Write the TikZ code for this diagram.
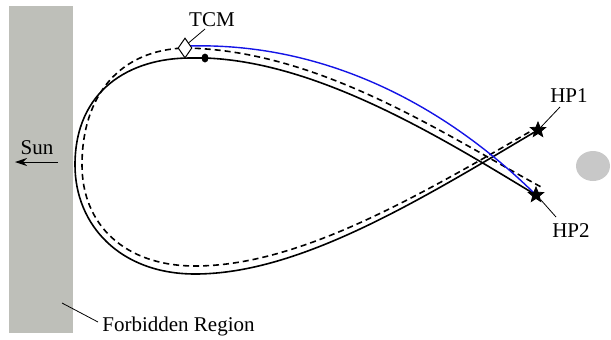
\documentclass[tikz,border=0pt]{standalone}
\usepackage{fontspec}
\setmainfont{Liberation Serif}
\usepackage{xcolor}
\usepackage{tikz}
\usetikzlibrary{arrows.meta,positioning,shapes.geometric}

\definecolor{wallgray}{RGB}{190,191,185}
\definecolor{moongray}{RGB}{200,200,200}
\definecolor{tcmblue}{RGB}{20,20,230}

\begin{document}
\begin{tikzpicture}[
      x=0.5pt, y=-0.5pt,
      lbl/.style={font=\fontsize{10.5}{12.6}\selectfont, inner sep=0pt},
      orbit/.style={line width=0.8pt, black},
      guess/.style={line width=0.8pt, black, dash pattern=on 3pt off 2pt},
      corr/.style={line width=0.7pt, tcmblue},
      leader/.style={line width=0.4pt},
      hp/.style={star, star points=5, star point ratio=2.3, fill=black,
        draw=black, inner sep=0pt, minimum size=8pt},
      burn/.style={diamond, draw, fill=white, line width=0.5pt, inner sep=0pt,
        minimum width=7pt, minimum height=10pt}
    ]
    \useasboundingbox (0,0) rectangle (611,339);

    % forbidden region and moon
    \fill[wallgray] (9,6) rectangle (73,333);
    \fill[moongray] (593,166) ellipse [x radius=17, y radius=15];

    % periodic orbit
    \draw[orbit] (538,130) .. controls (420,200) and (300,274) .. (195,274)
      .. controls (120,274) and (75,225) .. (75,165)
      .. controls (75,90) and (130,58) .. (190,58)
      -- (205,58) .. controls (320,62) and (445,140) .. (536,195);

    % perturbed trajectory
    \draw[guess] (538,127) .. controls (420,195) and (300,266) .. (195,266)
      .. controls (125,266) and (82,225) .. (82,165)
      .. controls (82,95) and (120,50) .. (185,48)
      .. controls (320,50) and (445,135) .. (543,188);

    % corrected leg after the manoeuvre
    \draw[corr] (188,46) .. controls (325,42) and (445,105) .. (536,195);

    % markers
    \node[burn] (tcm) at (185,48) {};
    \fill (205,58) ellipse [x radius=3.5, y radius=4.5];
    \node[hp] (hp1) at (538,130) {};
    \node[hp] (hp2) at (536,195) {};

    % labels
    \node[lbl] (tcmlbl) at (212,20) {TCM};
    \node[lbl] (hp1lbl) at (569,96) {HP1};
    \node[lbl] (hp2lbl) at (571,231) {HP2};
    \node[lbl] (sunlbl) at (37,148) {Sun};
    \node[lbl, anchor=west] (fr) at (102,326) {Forbidden Region};

    \coordinate (tcmtip) at (205,29);
    \coordinate (hp1tip) at (560,107);
    \coordinate (hp2tip) at (556,217);
    \coordinate (frtip) at (62,303);
    \coordinate (suntail) at (58,162);
    \coordinate (sunhead) at (15,162);

    \draw[leader] (tcm.north east) -- (tcmtip);
    \draw[leader] (hp1.north east) -- (hp1tip);
    \draw[leader] (hp2.south east) -- (hp2tip);
    \draw[leader] (frtip) -- ([xshift=-2pt, yshift=2pt]fr.west);
    \draw[line width=0.5pt, -{Stealth[length=6pt, width=4pt]}] (suntail) -- (sunhead);
  \end{tikzpicture}
\end{document}
